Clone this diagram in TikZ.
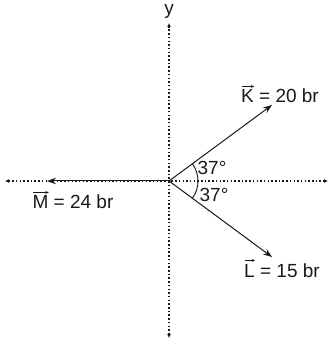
\documentclass[tikz,border=0pt]{standalone}
\usepackage{fontspec}
\setmainfont{Liberation Sans}
\usetikzlibrary{arrows.meta}
\definecolor{inkBlack}{RGB}{25, 25, 25}
\tikzset{
  axisline/.style={inkBlack, line width=1.2pt, dash pattern=on 1.5pt off 2.2pt, {Latex[length=4pt,width=4pt]}-{Latex[length=4pt,width=4pt]}},
  vecline/.style={inkBlack, line width=1pt, -{Stealth[length=9pt,width=6.5pt]}},
  vlabel/.style={inkBlack, font=\fontsize{19}{22}\selectfont, inner sep=0pt, anchor=base}
}
\newlength\vecw
\newlength\vech
\newcommand{\vecname}[1]{\settowidth\vecw{#1}\settoheight\vech{#1}%
  \rlap{\tikz[baseline=0pt]{\draw[line width=0.7pt, -{Stealth[length=3.5pt,width=3pt]}] (0pt,\vech+3.5pt) -- (\vecw,\vech+3.5pt);}}#1}

\begin{document}
\begin{tikzpicture}[x=1pt, y=1pt]
        \useasboundingbox (-169,-163) rectangle (163,181);
        \coordinate (O) at (0,0);
        \coordinate (xl) at (-164,0);
        \coordinate (xr) at (159,0);
        \coordinate (yt) at (0,158);
        \coordinate (yb) at (0,-157);
        \coordinate (K) at (103,76);
        \coordinate (L) at (103,-76);
        \coordinate (M) at (-122,0);
        % axes
        \draw[axisline] (xl) -- (xr);
        \draw[axisline] (yb) -- (yt);
        \node[vlabel] (ylab) at (0,166) {y};
        % vectors
        \draw[vecline] (O) -- (K);
        \draw[vecline] (O) -- (L);
        \draw[vecline] (O) -- (M);
        \node[vlabel] (Klab) at (111,78) {\vecname{K} = 20 br};
        \node[vlabel] (Llab) at (113,-96) {\vecname{L} = 15 br};
        \node[vlabel] (Mlab) at (-96,-28) {\vecname{M} = 24 br};
        % angles
        \draw[inkBlack, line width=0.9pt] (O) ++(37:29) arc[start angle=37, end angle=-37, radius=29];
        \node[vlabel] (aup) at (43,6) {37°};
        \node[vlabel] (adown) at (45,-21) {37°};
      \end{tikzpicture}
\end{document}
